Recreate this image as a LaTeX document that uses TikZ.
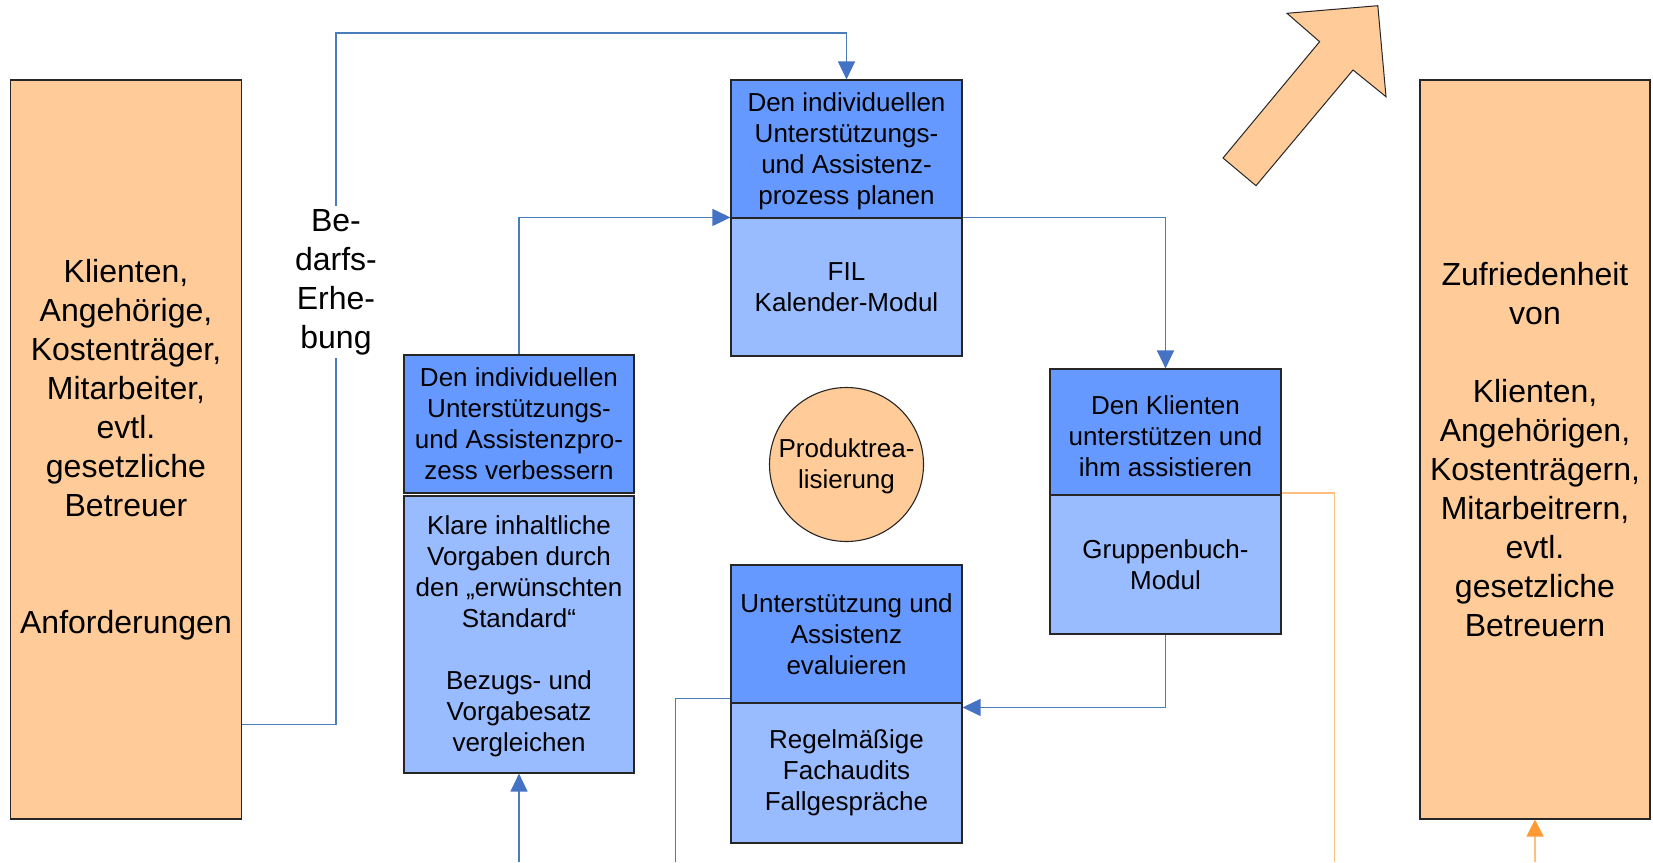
\documentclass[tikz,border=0pt]{standalone}
\usepackage{fontspec}
\setmainfont{Liberation Sans}
\usetikzlibrary{arrows.meta}
\definecolor{orfill}{HTML}{FFCC99}
\definecolor{bdark}{HTML}{6699FF}
\definecolor{blight}{HTML}{99BBFF}
\definecolor{blineC}{HTML}{4A7EBB}
\definecolor{btip}{HTML}{4472C4}
\definecolor{olineC}{HTML}{FFBF80}
\definecolor{otip}{HTML}{FF9933}
\definecolor{edgeC}{HTML}{262626}
\begin{document}
\begin{tikzpicture}[x=1pt,y=-1pt,
  bigtxt/.style={font=\fontsize{32}{39}\selectfont},
  smalltxt/.style={font=\fontsize{26}{31}\selectfont},
  basebox/.style={draw=edgeC, line width=1.1pt, inner sep=0pt, align=center},
  obox/.style={basebox, fill=orfill, bigtxt, minimum width=231pt, minimum height=739pt},
  dbox/.style={basebox, fill=bdark, smalltxt, minimum width=231pt},
  lbox/.style={basebox, fill=blight, smalltxt, minimum width=231pt},
  bconn/.style={draw=blineC, line width=1.2pt},
  bconnarr/.style={bconn, -{Triangle[length=18pt,width=17pt,fill=btip,color=btip]}},
  oconn/.style={draw=olineC, line width=1.4pt},
  oconnarr/.style={oconn, -{Triangle[length=17pt,width=17pt,fill=otip,color=otip]}},
  bigarrow/.style={draw=edgeC, line width=1pt, fill=orfill, line join=miter}
]
\useasboundingbox (0,0) rectangle (1653,862);

% orange side boxes
\node[obox] (L) at (126,449.5) {Klienten,\\Angehörige,\\Kostenträger,\\Mitarbeiter,\\evtl.\\gesetzliche\\Betreuer\\[78pt]Anforderungen};
\node[obox, minimum width=230pt] (R) at (1535,449.5) {Zufriedenheit\\von\\[39pt]Klienten,\\Angehörigen,\\Kostenträgern,\\Mitarbeitrern,\\evtl.\\gesetzliche\\Betreuern};

% top centre
\node[dbox, minimum height=138pt] (TU) at (846.5,149) {};
\node[smalltxt, align=center] (TUt) at (846.5,151) {Den individuellen\\Unterstützungs-\\und Assistenz-\\prozess planen};
\node[lbox, minimum height=138pt] (TL) at (846.5,287) {FIL\\Kalender-Modul};

% left middle
\node[dbox, minimum width=230pt, minimum height=138pt] (MU) at (519,424) {Den individuellen\\Unterstützungs-\\und Assistenzpro-\\zess verbessern};
\node[lbox, minimum width=230pt, minimum height=277pt] (ML) at (519,634.5) {};
\node[smalltxt, align=center] (MLt) at (519,636) {Klare inhaltliche\\Vorgaben durch\\den „erwünschten\\Standard“\\[31pt]Bezugs- und\\Vorgabesatz\\vergleichen};

% right middle
\node[dbox, minimum height=126pt] (RU) at (1165.5,432) {};
\node[smalltxt, align=center] (RUt) at (1165.5,436.5) {Den Klienten\\unterstützen und\\ihm assistieren};
\node[lbox, minimum height=139pt] (RL) at (1165.5,564.5) {Gruppenbuch-\\Modul};

% bottom centre
\node[dbox, minimum height=138pt] (BU) at (846.5,634) {Unterstützung und\\Assistenz\\evaluieren};
\node[lbox, minimum height=140pt] (BL) at (846.5,773) {Regelmäßige\\Fachaudits\\Fallgespräche};

% circle
\node[draw=edgeC, line width=1.1pt, fill=orfill, circle, minimum size=154pt, inner sep=0pt] (C) at (846.5,464.5) {};
\node[align=center, font=\fontsize{26}{30.6}\selectfont] (Ct) at (846.5,466.5) {Produktrea-\\lisierung};

% big arrow
\path[bigarrow] (1287,13.3) -- (1377.8,5.7) -- (1386,96.7) -- (1353,70) -- (1256,185.7) -- (1223,158) -- (1319.6,41.7) -- cycle;

% free ends
\coordinate (e1) at (675.7,862);
\coordinate (e2) at (519,862);
\coordinate (e3) at (1334.3,862);
\coordinate (e4) at (1535,862);
\coordinate (top) at (336,33);

% connectors
\draw[bconnarr] ([yshift=95pt]L.south east) -| (top) -| (TU.north);
\node[fill=white, inner sep=3pt, align=center, bigtxt] (bed) at (336,282) {Be-\\darfs-\\Erhe-\\bung};
\draw[bconnarr] (MU.north) |- (TL.north west);
\draw[bconnarr] (TL.north east) -| (RU.north);
\draw[bconnarr] (RL.south) |- ([yshift=-5pt]BL.north east);
\draw[bconn] ([yshift=5pt]BU.south west) -| (e1);
\draw[bconnarr] (e2) -- (ML.south);
\draw[oconn] ([yshift=2.5pt]RU.south east) -| (e3);
\draw[oconnarr] (e4) -- (R.south);
\end{tikzpicture}
\end{document}
